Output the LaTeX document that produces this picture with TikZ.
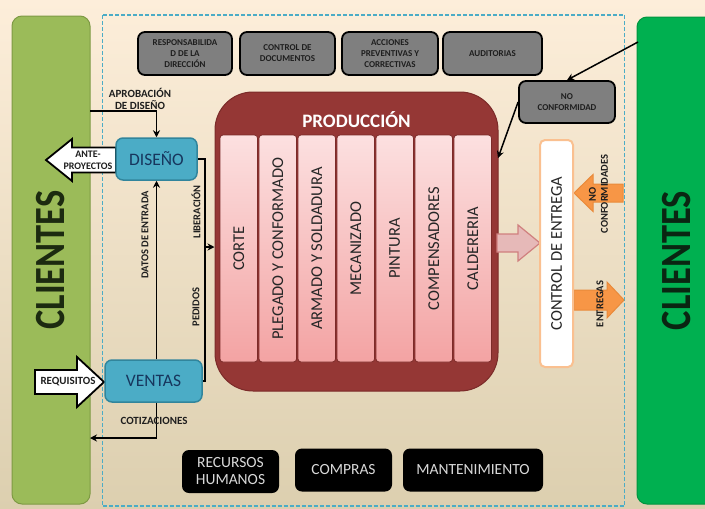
\documentclass[tikz,border=0pt]{standalone}
\usepackage{fontspec}
\usepackage{graphicx}
\setmainfont{Carlito}
\usetikzlibrary{arrows.meta}
\definecolor{bgtop}{HTML}{FDEEDA}
\definecolor{bgbot}{HTML}{DCCFAF}
\definecolor{gL}{HTML}{9BBB59}
\definecolor{gLd}{HTML}{7E9A44}
\definecolor{gR}{HTML}{00B050}
\definecolor{gRd}{HTML}{00953F}
\definecolor{cliL}{HTML}{1C2A10}
\definecolor{cliR}{HTML}{0A2612}
\definecolor{dashblue}{HTML}{4BACC6}
\definecolor{boxgray}{HTML}{7F7F7F}
\definecolor{txtdark}{HTML}{1E1E1E}
\definecolor{prodred}{HTML}{953735}
\definecolor{prodredd}{HTML}{7B2B29}
\definecolor{pinklight}{HTML}{FCE0E0}
\definecolor{pinkdark}{HTML}{F3A3A3}
\definecolor{coltext}{HTML}{262626}
\definecolor{blueF}{HTML}{4BACC6}
\definecolor{bluedark}{HTML}{31859C}
\definecolor{bluetext}{HTML}{17365D}
\definecolor{arrpink}{HTML}{E6B9B8}
\definecolor{arrpinkd}{HTML}{D0807F}
\definecolor{orangeF}{HTML}{F79646}
\definecolor{oranged}{HTML}{E98A3A}
\definecolor{ctrlb}{HTML}{FAC090}
\definecolor{lgtext}{HTML}{D9D9D9}
% tail x, head-base x, tip x, y, body half, head half, style
\newcommand{\harrow}[7]{\draw[#7] (#1,{#4-#5}) -- (#2,{#4-#5}) -- (#2,{#4-#6}) -- (#3,#4) -- (#2,{#4+#6}) -- (#2,{#4+#5}) -- (#1,{#4+#5}) -- cycle;}
\begin{document}
\begin{tikzpicture}[x=1pt,y=-1pt,
  line/.style={draw=black, line width=1.5pt},
  arr/.style={line, -{Stealth[length=7pt,width=7pt]}},
  graybox/.style={draw=black, line width=1.8pt, fill=boxgray, rounded corners=7pt, text=txtdark, font=\fontsize{9}{11}\selectfont\bfseries, align=center, inner sep=0pt, minimum height=43pt},
  blkbox/.style={fill=black, rounded corners=7pt, text=lgtext, font=\fontsize{15.5}{17}\selectfont, align=center, inner sep=0pt, minimum height=43pt},
  bluebox/.style={draw=bluedark, line width=1.5pt, fill=blueF, rounded corners=7pt, text=bluetext, font=\fontsize{17.5}{20}\selectfont, inner sep=0pt, minimum height=42pt},
  colbox/.style={draw=prodredd, line width=0.8pt, top color=pinklight, bottom color=pinkdark, rounded corners=3pt, minimum width=37.5pt, minimum height=227pt, inner sep=0pt, text=coltext, font=\fontsize{16.5}{18}\selectfont},
  lbl/.style={font=\fontsize{10.5}{12}\selectfont\bfseries, text=txtdark, inner sep=0pt, align=center},
  whitearrow/.style={fill=white, draw=black, line width=1.8pt, line join=miter},
]
\useasboundingbox (0,0) rectangle (705,509);
\fill[top color=bgtop, bottom color=bgbot] (0,0) rectangle (705,509);

% client columns
\node[draw=gLd, line width=1pt, fill=gL, rounded corners=10pt, minimum width=78pt, minimum height=488pt, inner sep=0pt, text=cliL] (cliL) at (51,260)
  {\rotatebox{90}{\scalebox{1}[1.18]{\fontsize{36.5}{40}\selectfont\bfseries CLIENTES}}};
\node[draw=gRd, line width=1pt, fill=gR, rounded corners=10pt, minimum width=80pt, minimum height=487pt, inner sep=0pt, text=cliR] (cliR) at (677,260.5)
  {\rotatebox{90}{\scalebox{1}[1.18]{\fontsize{36.5}{40}\selectfont\bfseries CLIENTES}}};

% dashed frame
\draw[dashblue, line width=1.6pt, dash pattern=on 4pt off 2pt] (102.5,15) rectangle (624.5,506);

% top gray boxes
\node[graybox, minimum width=94pt] (g1) at (185,53.5) {RESPONSABILIDA\\D DE LA\\DIRECCIÓN};
\node[graybox, minimum width=95pt] (g2) at (287.5,53.5) {CONTROL DE\\DOCUMENTOS};
\node[graybox, minimum width=96pt] (g3) at (390,53.5) {ACCIONES\\PREVENTIVAS Y\\CORRECTIVAS};
\node[graybox, minimum width=99pt] (g4) at (492.5,53.5) {AUDITORIAS};
\node[graybox, minimum width=96pt, minimum height=42pt] (nc) at (567,102) {NO\\CONFORMIDAD};

% production
\node[draw=prodredd, line width=1pt, fill=prodred, rounded corners=38pt, minimum width=283pt, minimum height=299pt, inner sep=0pt] (prod) at (356.5,241.5) {};
\node[text=white, font=\fontsize{19}{22}\selectfont\bfseries, inner sep=0pt] (prodt) at (356.5,120) {PRODUCCIÓN};
\node[colbox] (c1) at (238.75,248.5) {\rotatebox{90}{CORTE}};
\node[colbox] (c2) at (277.75,248.5) {\rotatebox{90}{PLEGADO Y CONFORMADO}};
\node[colbox] (c3) at (316.75,248.5) {\rotatebox{90}{ARMADO Y SOLDADURA}};
\node[colbox] (c4) at (355.75,248.5) {\rotatebox{90}{MECANIZADO}};
\node[colbox] (c5) at (394.75,248.5) {\rotatebox{90}{PINTURA}};
\node[colbox] (c6) at (433.75,248.5) {\rotatebox{90}{COMPENSADORES}};
\node[colbox] (c7) at (472.75,248.5) {\rotatebox{90}{CALDERERIA}};

% block arrows
\harrow{116}{72}{46}{160}{12.5}{21}{whitearrow}
\node[lbl, font=\fontsize{10}{12}\selectfont\bfseries] (apt) at (88,160) {ANTE-\\PROYECTOS};
\harrow{35}{77}{104}{382}{12}{25}{whitearrow}
\node[lbl, font=\fontsize{11}{12}\selectfont\bfseries] (rqt) at (68,382) {REQUISITOS};
\harrow{497}{518}{540}{243}{9}{18}{fill=arrpink, draw=arrpinkd, line width=1.2pt}
\harrow{623}{593}{574}{193}{9}{18.5}{fill=orangeF, draw=oranged, line width=1pt}
\harrow{574}{607}{624}{300}{10}{18}{fill=orangeF, draw=oranged, line width=1pt}

% control de entrega
\node[draw=ctrlb, line width=2pt, fill=white, rounded corners=5pt, minimum width=33pt, minimum height=227pt, inner sep=0pt, text=coltext, font=\fontsize{16.5}{18}\selectfont] (ce) at (556.5,253.5) {\rotatebox{90}{CONTROL DE ENTREGA}};

% diseno / ventas
\node[bluebox, minimum width=81pt] (dis) at (156.5,159) {DISEÑO};
\node[bluebox, minimum width=97pt] (ven) at (153.5,381) {VENTAS};

% connectors
\coordinate (apS) at (90,111);
\draw[arr] (apS) -| (dis.north);
\draw[arr] (dis.south |- ven.north) -- (dis.south);
\coordinate (cotE) at (90,438);
\draw[arr] (dis.south |- ven.south) |- (cotE);
\coordinate (lb) at (205,247);
\draw[line] (dis.east) -| (lb) |- (ven.east);
\draw[arr] (lb) -- (lb -| prod.west);
\coordinate (grE) at (638,42);
\draw[arr] (grE) -- (nc.north);
\coordinate (pE) at (498,158);
\draw[arr] (nc.west) -- (pE);

% labels
\node[lbl, font=\fontsize{11}{12}\selectfont\bfseries] (l1) at (140,99) {APROBACIÓN\\DE DISEÑO};
\node[lbl, rotate=90] (l2) at (145,235) {DATOS DE ENTRADA};
\node[lbl, rotate=90] (l3) at (196,212) {LIBERACIÓN};
\node[lbl, rotate=90] (l4) at (196,307) {PEDIDOS};
\node[lbl, font=\fontsize{11}{12}\selectfont\bfseries] (l5) at (154,421) {COTIZACIONES};
\node[lbl, rotate=90] (l6) at (598.5,194) {NO\\CONFORMIDADES};
\node[lbl, rotate=90] (l7) at (600,304) {ENTREGAS};

% bottom boxes
\node[blkbox, minimum width=97pt] (b1) at (230.5,471.5) {RECURSOS\\HUMANOS};
\node[blkbox, minimum width=97pt] (b2) at (343.5,470) {COMPRAS};
\node[blkbox, minimum width=140pt] (b3) at (473,470) {MANTENIMIENTO};
\end{tikzpicture}
\end{document}
